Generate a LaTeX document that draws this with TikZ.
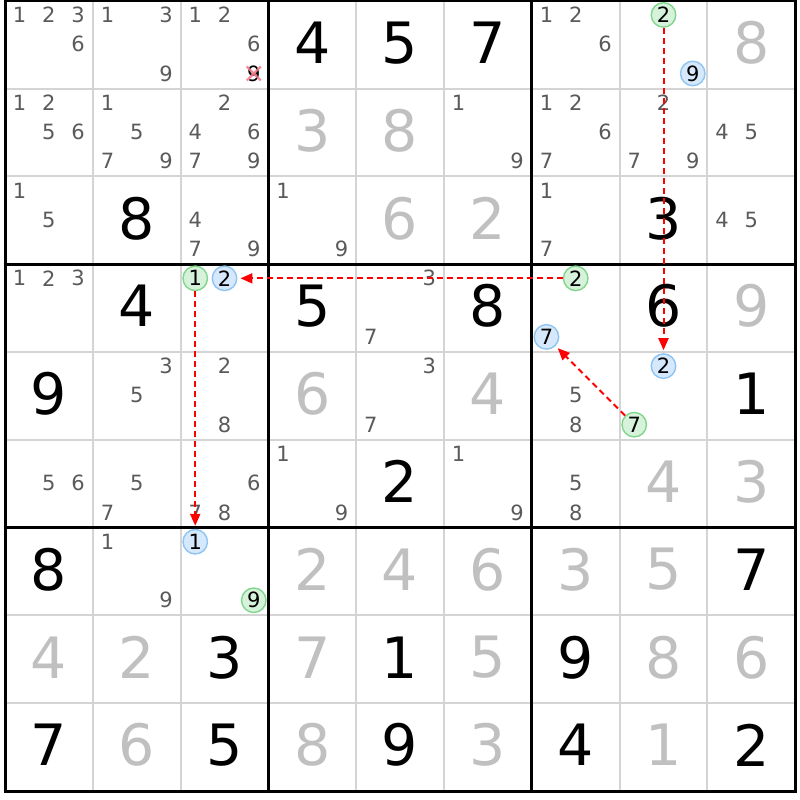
\documentclass[tikz,border=0pt]{standalone}
\usepackage{fontspec}
\setmainfont{DejaVu Sans}
\usetikzlibrary{arrows.meta}
\definecolor{candgray}{HTML}{5A5A5A}
\definecolor{givgray}{HTML}{C0C0C0}
\definecolor{thingrid}{HTML}{D4D4D4}
\definecolor{gstroke}{HTML}{80D68C}
\definecolor{gfill}{HTML}{D6F2DA}
\definecolor{bstroke}{HTML}{8EC4F2}
\definecolor{bfill}{HTML}{D6E9FC}
\definecolor{xred}{HTML}{F27A8A}
\definecolor{arrred}{HTML}{FF0000}
\newcommand\setpos[3]{%
  \pgfmathsetmacro\px{5.0+(#2-1)*87.8+(0.5+mod(#3-1,3))*87.8/3}%
  \pgfmathsetmacro\py{0.8+(#1-1)*87.8+(0.5+floor((#3-1)/3))*87.8/3-0.5}}
\newcommand\setcell[2]{%
  \pgfmathsetmacro\gx{5+(#2-0.5)*87.8}%
  \pgfmathsetmacro\gy{0.8+(#1-0.5)*87.8-2}}
\tikzset{
  cand/.style={inner sep=0pt, text=candgray, font=\fontsize{21}{23}\selectfont},
  hcand/.style={cand, text=black, circle, minimum size=24.5pt, line width=1.4pt},
  gcirc/.style={hcand, draw=gstroke, fill=gfill},
  bcirc/.style={hcand, draw=bstroke, fill=bfill},
  given/.style={inner sep=0pt, font=\fontsize{57}{60}\selectfont},
  arr/.style={arrred, dashed, dash pattern=on 6pt off 4pt, line width=2pt,
    -{Triangle[length=12pt,width=10pt]}, shorten >=3pt},
  xmark/.style={xred, line width=2.2pt, opacity=0.85},
  thinline/.style={thingrid, line width=2pt},
  thickline/.style={black, line width=3pt}
}
\begin{document}
\begin{tikzpicture}[x=1pt,y=-1pt]
\useasboundingbox (0,0) rectangle (800,800);
\fill[white] (0,0) rectangle (800,800);
% grid
\foreach \i in {1,2,4,5,7,8}{
  \draw[thinline] ({5+\i*87.8},0.8) -- ({5+\i*87.8},791);
  \draw[thinline] (5,{0.8+\i*87.8}) -- (795.2,{0.8+\i*87.8});
}
\foreach \i in {0,3,6,9}{
  \draw[thickline] ({5+\i*87.8},-0.7) -- ({5+\i*87.8},792.5);
  \draw[thickline] (3.5,{0.8+\i*87.8}) -- (796.7,{0.8+\i*87.8});
}
% givens
\foreach \r/\c/\d/\col in {
  1/4/4/black, 1/5/5/black, 1/6/7/black, 1/9/8/givgray,
  2/4/3/givgray, 2/5/8/givgray,
  3/2/8/black, 3/5/6/givgray, 3/6/2/givgray, 3/8/3/black,
  4/2/4/black, 4/4/5/black, 4/6/8/black, 4/8/6/black, 4/9/9/givgray,
  5/1/9/black, 5/4/6/givgray, 5/6/4/givgray, 5/9/1/black,
  6/5/2/black, 6/8/4/givgray, 6/9/3/givgray,
  7/1/8/black, 7/4/2/givgray, 7/5/4/givgray, 7/6/6/givgray, 7/7/3/givgray, 7/8/5/givgray, 7/9/7/black,
  8/1/4/givgray, 8/2/2/givgray, 8/3/3/black, 8/4/7/givgray, 8/5/1/black, 8/6/5/givgray, 8/7/9/black, 8/8/8/givgray, 8/9/6/givgray,
  9/1/7/black, 9/2/6/givgray, 9/3/5/black, 9/4/8/givgray, 9/5/9/black, 9/6/3/givgray, 9/7/4/black, 9/8/1/givgray, 9/9/2/black}{
  \setcell{\r}{\c}
  \node[given, text=\col] (g\r\c) at (\gx,\gy) {\d};
}
% candidates
\foreach \r/\c/\ds in {
  1/1/{1,2,3,6}, 1/2/{1,3,9}, 1/3/{1,2,6}, 1/7/{1,2,6},
  2/1/{1,2,5,6}, 2/2/{1,5,7,9}, 2/3/{2,4,6,7,9}, 2/6/{1,9}, 2/7/{1,2,6,7}, 2/8/{2,7,9}, 2/9/{4,5},
  3/1/{1,5}, 3/3/{4,7,9}, 3/4/{1,9}, 3/7/{1,7}, 3/9/{4,5},
  4/1/{1,2,3}, 4/5/{3,7},
  5/2/{3,5}, 5/3/{2,8}, 5/5/{3,7}, 5/7/{5,8},
  6/1/{5,6}, 6/2/{5,7}, 6/3/{6,7,8}, 6/4/{1,9}, 6/6/{1,9}, 6/7/{5,8},
  7/2/{1,9}}{
  \foreach \k in \ds {
    \setpos{\r}{\c}{\k}
    \node[cand] (k\r\c-\k) at (\px,\py) {\k};
  }
}
% eliminated candidate
\setpos{1}{3}{9}
\node[cand, text=black] (k13-9) at (\px,\py) {9};
\draw[xmark] ([shift={(-7,-7)}]k13-9.center) -- ([shift={(7,7)}]k13-9.center);
\draw[xmark] ([shift={(-7,7)}]k13-9.center) -- ([shift={(7,-7)}]k13-9.center);
% highlighted candidates
\foreach \r/\c/\k/\s in {1/8/2/gcirc, 1/8/9/bcirc, 4/3/1/gcirc, 4/3/2/bcirc,
  4/7/2/gcirc, 4/7/7/bcirc, 5/8/2/bcirc, 5/8/7/gcirc, 7/3/1/bcirc, 7/3/9/gcirc}{
  \setpos{\r}{\c}{\k}
  \node[\s] (h\r\c-\k) at (\px,\py) {\k};
}
\draw[arr] (h18-2) -- (h58-2);
\draw[arr] (h47-2) -- (h43-2);
\draw[arr] (h43-1) -- (h73-1);
\draw[arr] (h58-7) -- (h47-7);
\end{tikzpicture}
\end{document}
